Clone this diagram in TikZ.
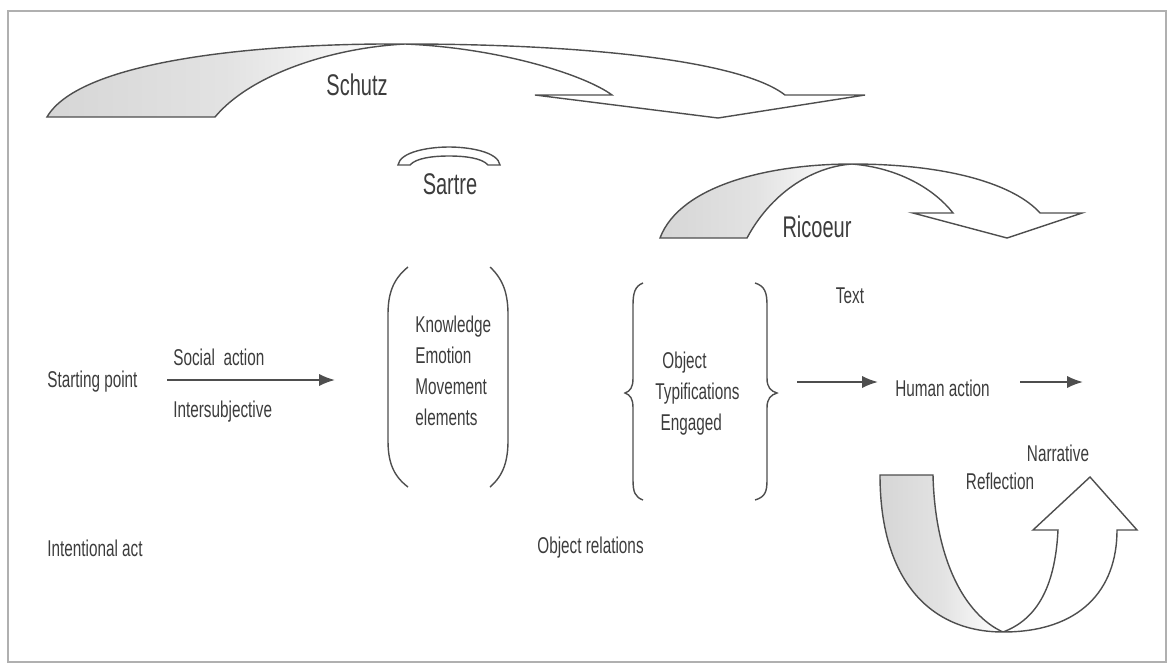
\documentclass[tikz,border=0pt]{standalone}
\usepackage{fontspec}
\usetikzlibrary{arrows.meta, positioning, calc}
\newfontfamily\labelfont{Liberation Sans}[FakeStretch=0.67]
\definecolor{INK}{HTML}{3C3C3C}
\definecolor{LINE}{HTML}{4E4E4E}
\definecolor{SHADE}{HTML}{D6D6D6}
\definecolor{FRAME}{HTML}{B0B0B0}

\begin{document}
\begin{tikzpicture}[x=0.02cm, y=-0.02cm,
    lbl/.style={INK, font=\labelfont\fontsize{13}{16}\selectfont, inner sep=0pt},
    listlbl/.style={lbl, align=left, font=\labelfont\fontsize{13}{17.6}\selectfont},
    title/.style={INK, font=\labelfont\fontsize{17}{20}\selectfont, inner sep=0pt},
    band/.style={LINE, line width=0.8pt, line join=miter},
    flow/.style={LINE, line width=1.1pt, -{Latex[length=9pt,width=7pt]}},
    bracket/.style={LINE, line width=0.8pt}]
  \useasboundingbox (0,0) rectangle (1169,667);

  % Frame
  \draw[FRAME, line width=1pt] (8,11) rectangle (1166,662);

  % Schutz arrow
  \shade[left color=SHADE, right color=white, middle color=SHADE!70] (47,117) .. controls (80,60) and (260,43) .. (405,44)
    .. controls (330,48) and (250,75) .. (215,117) -- cycle;
  \draw[band] (47,117) .. controls (80,60) and (260,43) .. (405,44)
    .. controls (580,44) and (740,60) .. (785,95) -- (865,95) -- (718,118) -- (535,95) -- (612,95)
    .. controls (585,75) and (500,48) .. (405,44)
    .. controls (330,48) and (250,75) .. (215,117) -- cycle;
  \node[title] (schutz) at (357,85) {Schutz};

  % Sartre arch
  \draw[band] (398,165) .. controls (400,152) and (428,147) .. (449,147)
    .. controls (470,147) and (498,152) .. (500,165) -- (488,165)
    .. controls (482,158) and (465,156) .. (449,156)
    .. controls (433,156) and (416,158) .. (410,165) -- cycle;
  \node[title] (sartre) at (450,184) {Sartre};

  % Ricoeur arrow
  \shade[left color=SHADE, right color=white, middle color=SHADE!70] (660,238) .. controls (680,185) and (770,164) .. (852,164)
    .. controls (810,167) and (770,195) .. (747,238) -- cycle;
  \draw[band] (660,238) .. controls (680,185) and (770,164) .. (852,164)
    .. controls (950,164) and (1015,185) .. (1040,213) -- (1082,213) -- (1007,238) -- (913,213) -- (953,213)
    .. controls (935,190) and (900,168) .. (852,164)
    .. controls (810,167) and (770,195) .. (747,238) -- cycle;
  \node[title] (ricoeur) at (817,227) {Ricoeur};

  % Left column
  \node[lbl, anchor=west] (start) at (47,382) {Starting point};
  \node[lbl, anchor=west] (social) at (173,357) {Social\ \ action};
  \node[lbl, anchor=west] (intersub) at (173,412) {Intersubjective};
  \node[lbl, anchor=west] (intent) at (47,548) {Intentional act};
  \coordinate (sa-tail) at (167,380);
  \coordinate (sa-head) at (335,380);
  \draw[flow] (sa-tail) -- (sa-head);

  % Round brackets
  \draw[bracket] (408,267) .. controls (392,280) and (388,295) .. (388,315) -- (388,440)
    .. controls (388,460) and (392,475) .. (408,487);
  \draw[bracket] (490,267) .. controls (504,280) and (508,295) .. (508,315) -- (508,440)
    .. controls (508,460) and (504,475) .. (490,487);
  \node[listlbl, anchor=north west] (elements) at (415,316) {Knowledge\\Emotion\\Movement\\elements};

  % Curly braces
  \draw[bracket] (643,283) .. controls (635,286) and (633,293) .. (633,305) -- (633,378)
    .. controls (633,388) and (630,391) .. (625,393) .. controls (630,395) and (633,398) .. (633,408)
    -- (633,480) .. controls (633,492) and (635,497) .. (643,500);
  \draw[bracket] (755,283) .. controls (765,286) and (767,293) .. (767,305) -- (767,378)
    .. controls (767,388) and (771,391) .. (777,393) .. controls (771,395) and (767,398) .. (767,408)
    -- (767,480) .. controls (767,492) and (765,497) .. (755,500);
  \node[listlbl, anchor=north west] (typif) at (655,352) {\hspace{4pt}Object\\Typifications\\\hspace{3pt}Engaged};
  \node[lbl, anchor=west] (objrel) at (537,548) {Object relations};

  % Right column
  \node[lbl] (text) at (850,296) {Text};
  \node[lbl, anchor=west] (human) at (895,388) {Human action};
  \coordinate (ha-tail) at (797,382);
  \coordinate (ha-head) at (878,382);
  \coordinate (out-tail) at (1020,382);
  \coordinate (out-head) at (1083,382);
  \draw[flow] (ha-tail) -- (ha-head);
  \draw[flow] (out-tail) -- (out-head);

  % Reflection / narrative loop
  \shade[left color=SHADE, right color=white, middle color=SHADE!70] (880,475) -- (933,475)
    .. controls (935,560) and (965,615) .. (1003,632)
    .. controls (930,632) and (880,580) .. (880,475) -- cycle;
  \draw[band] (880,475) -- (933,475) .. controls (935,560) and (965,615) .. (1003,632)
    .. controls (1080,632) and (1117,590) .. (1117,530) -- (1137,530) -- (1090,477) -- (1033,530) -- (1058,530)
    .. controls (1055,590) and (1035,620) .. (1003,632)
    .. controls (930,632) and (880,580) .. (880,475) -- cycle;
  \node[lbl] (narr) at (1058,453) {Narrative};
  \node[lbl] (refl) at (1000,481) {Reflection};
\end{tikzpicture}
\end{document}
